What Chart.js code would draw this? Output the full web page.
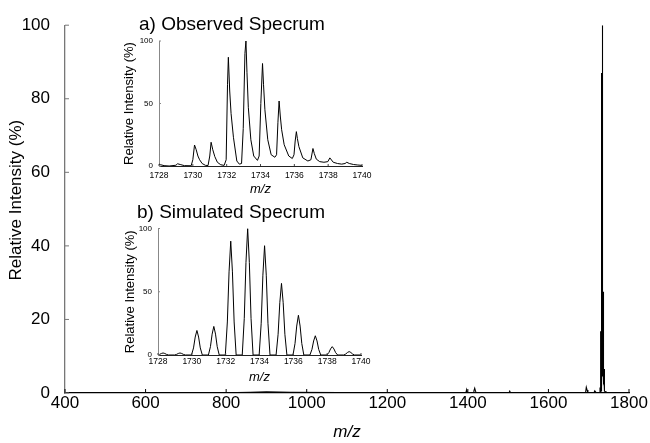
<!DOCTYPE html>
<html>
<head>
<meta charset="utf-8">
<script src="https://cdn.jsdelivr.net/npm/chart.js@4/dist/chart.umd.min.js"></script>
<style>
  html, body { margin: 0; padding: 0; background: #fff; }
  #wrap { position: relative; width: 650px; height: 443px; overflow: hidden; }
  canvas { position: absolute; left: 0; top: 0; }
  .ttl { position: absolute; font-family: 'Liberation Sans', Arial, Helvetica, sans-serif; font-size: 19px; line-height: 19px; color: #000; white-space: nowrap; }
</style>
</head>
<body>
<div id="wrap">
  <canvas id="main" width="650" height="443"></canvas>
  <canvas id="insetA" width="650" height="443"></canvas>
  <canvas id="insetB" width="650" height="443"></canvas>
  <div class="ttl" id="titleA" style="left:139px; top:14px;">a) Observed Specrum</div>
  <div class="ttl" id="titleB" style="left:137px; top:202px;">b) Simulated Specrum</div>
</div>
<script>
// ---------- DATA ----------
// Full spectrum, low-mass region (m/z, relative intensity %)
const lowMz  = [400, 520, 640, 760, 860, 900, 960, 1080, 1200, 1300, 1395, 1397, 1399, 1413, 1415, 1417, 1419, 1421, 1460, 1502, 1504, 1506, 1600, 1650, 1692, 1694, 1696, 1698, 1713, 1715, 1717, 1719, 1727];
const lowInt = [0,   0,   0.1, 0,   0.2, 0.3, 0.2, 0.1,  0,    0,    0,    0.9,  0,    0,    0.6,  1.3,  0.5,  0,    0.1,  0,    0.5,  0,    0,    0,    0,    1.6,  0.8,  0,    0,    0.6,  0.3,  0,    0];
// Above the isotope cluster
const highMz  = [1745, 1800];
const highInt = [0.2, 0];

// a) Observed isotope cluster
const obsMz = [
  1728.0, 1728.1, 1728.3, 1728.6, 1729.0, 1729.1, 1729.25, 1729.5, 1729.9,
  1730.0, 1730.1, 1730.2, 1730.3, 1730.4, 1730.55, 1730.75, 1730.9,
  1731.0, 1731.08, 1731.18, 1731.3, 1731.45, 1731.65, 1731.85,
  1731.97, 1732.05, 1732.1, 1732.18, 1732.26, 1732.4, 1732.6, 1732.75, 1732.88,
  1732.98, 1733.08, 1733.14, 1733.2, 1733.28, 1733.43, 1733.6, 1733.82, 1733.92,
  1734.02, 1734.12, 1734.18, 1734.26, 1734.43, 1734.63, 1734.85, 1734.95,
  1735.03, 1735.1, 1735.17, 1735.25, 1735.4, 1735.67, 1735.88, 1735.98,
  1736.05, 1736.12, 1736.18, 1736.27, 1736.5, 1736.8, 1736.98,
  1737.1, 1737.18, 1737.3, 1737.5, 1737.75, 1737.98,
  1738.1, 1738.3, 1738.55, 1738.8, 1739.0, 1739.1, 1739.25, 1739.5, 1739.75, 1740.0
];
const obsInt = [
  1.5, 1.0, 0.3, 0.0, 0.6, 1.8, 1.2, 0.3, 0.2,
  5, 16.8, 13, 8, 5, 2, 0.5, 0.4,
  8, 19, 13, 7.5, 3, 1, 0.5,
  5, 65, 87, 60, 42, 23, 4, 1.5, 2,
  30, 90, 100, 75, 47, 21, 8, 4.5, 8,
  50, 82, 65, 45, 21, 9, 7, 9,
  35, 52, 40, 29, 17, 8, 6, 9,
  20, 27.5, 22, 15.5, 6.5, 4, 5,
  14, 10, 5.5, 3.5, 3, 3.5,
  6.5, 3, 2, 1.5, 2, 3, 2, 1.2, 0.8, 0.5
];

// b) Simulated isotope cluster
const simMz = [
  1728.0,
  1728.0, 1728.1, 1728.2, 1728.3, 1728.4, 1728.5, 1728.62,
  1728.98, 1729.1, 1729.2, 1729.3, 1729.4, 1729.5, 1729.62,
  1729.98, 1730.1, 1730.2, 1730.3, 1730.4, 1730.5, 1730.62,
  1730.98, 1731.1, 1731.2, 1731.3, 1731.4, 1731.5, 1731.62,
  1731.98, 1732.1, 1732.2, 1732.3, 1732.4, 1732.5, 1732.62,
  1732.98, 1733.1, 1733.2, 1733.3, 1733.4, 1733.5, 1733.62,
  1733.98, 1734.1, 1734.2, 1734.3, 1734.4, 1734.5, 1734.62,
  1734.98, 1735.1, 1735.2, 1735.3, 1735.4, 1735.5, 1735.62,
  1735.98, 1736.1, 1736.2, 1736.3, 1736.4, 1736.5, 1736.62,
  1736.98, 1737.1, 1737.2, 1737.3, 1737.4, 1737.5, 1737.62,
  1737.98, 1738.1, 1738.2, 1738.3, 1738.4, 1738.5, 1738.62,
  1738.98, 1739.1, 1739.2, 1739.3, 1739.4, 1739.5, 1739.62,
  1740.0
];
const simInt = [
  0,
  0, 0.5, 1.2, 1.6, 1.2, 0.5, 0,
  0, 0.5, 1.2, 1.6, 1.2, 0.5, 0,
  0, 5.6, 14.2, 19.4, 14.2, 5.6, 0,
  0, 6.6, 16.5, 22.6, 16.5, 6.6, 0,
  0, 26.1, 65.7, 90, 65.7, 26.1, 0,
  0, 29, 73, 100, 73, 29, 0,
  0, 25.1, 63.1, 86.4, 63.1, 25.1, 0,
  0, 16.4, 41.3, 56.6, 41.3, 16.4, 0,
  0, 9.1, 22.9, 31.4, 22.9, 9.1, 0,
  0, 4.4, 11.1, 15.2, 11.1, 4.4, 0,
  0, 1.9, 4.8, 6.6, 4.8, 1.9, 0,
  0, 0.8, 2.0, 2.7, 2.0, 0.8, 0,
  0
];

// Tick values
const mainXTicks = [400, 600, 800, 1000, 1200, 1400, 1600, 1800];
const mainYTicks = [0, 20, 40, 60, 80, 100];
const insetXTicks = [1728, 1730, 1732, 1734, 1736, 1738, 1740];
const insetYTicks = [0, 50, 100];

// ---------- HELPERS ----------
const FONT = "'Liberation Sans', Arial, Helvetica, sans-serif";
Chart.defaults.font.family = FONT;
Chart.defaults.color = '#000';

function toPts(xs, ys) { return xs.map((x, i) => ({ x: x, y: ys[i] })); }

const inTicks = {
  id: 'inTicks',
  afterDraw(chart, args, opts) {
    const ctx = chart.ctx, a = chart.chartArea;
    const xs = chart.scales.x, ys = chart.scales.y;
    ctx.save();
    ctx.lineWidth = opts.width || 1;
    ctx.strokeStyle = opts.xColor || '#000';
    ctx.beginPath();
    xs.ticks.forEach((t, i) => {
      const p = xs.getPixelForTick(i);
      ctx.moveTo(p, a.bottom); ctx.lineTo(p, a.bottom - opts.len);
    });
    ctx.stroke();
    ctx.strokeStyle = opts.yColor || '#000';
    ctx.beginPath();
    ys.ticks.forEach((t, i) => {
      const p = ys.getPixelForTick(i);
      ctx.moveTo(a.left, p); ctx.lineTo(a.left + opts.len, p);
    });
    ctx.stroke();
    // optional y-axis title drawn with an offset from the axis centre
    if (opts.yTitle) {
      const t = opts.yTitle;
      ctx.fillStyle = '#000';
      ctx.font = t.size + 'px ' + FONT;
      ctx.textAlign = 'center';
      ctx.textBaseline = 'middle';
      ctx.translate(t.x, (a.top + a.bottom) / 2 + t.dy);
      ctx.rotate(-Math.PI / 2);
      ctx.fillText(t.text, 0, 0);
    }
    ctx.restore();
  }
};

function fixedTicks(values) {
  return function (scale) {
    scale.ticks = values.map(v => ({ value: v }));
  };
}

function makeChart(id, cfg) {
  return new Chart(document.getElementById(id), {
    type: 'line',
    data: { datasets: [{ data: cfg.data, borderColor: '#000', borderWidth: cfg.lw, pointRadius: 0, tension: 0, fill: false }] },
    plugins: [inTicks],
    options: {
      responsive: false, animation: false, events: [],
      layout: { padding: cfg.pad },
      plugins: { legend: { display: false }, tooltip: { enabled: false }, inTicks: cfg.ticksOpt },
      scales: {
        x: {
          type: 'linear', min: cfg.xmin, max: cfg.xmax,
          afterBuildTicks: fixedTicks(cfg.xTicks),
          ticks: { font: { size: cfg.xFont }, padding: cfg.xPad, maxRotation: 0, autoSkip: false, callback: v => String(v) },
          grid: { drawOnChartArea: false, drawTicks: false },
          border: { color: cfg.xAxisColor, width: cfg.axisW },
          title: { display: true, text: 'm/z', font: { size: cfg.xtFont, style: 'italic' }, padding: { top: 0, bottom: cfg.xtPad } },
          afterFit: s => { s.height = cfg.xH; }
        },
        y: {
          min: 0, max: 100,
          afterBuildTicks: fixedTicks(cfg.yTicks),
          ticks: { font: { size: cfg.yFont }, padding: cfg.yPad, callback: v => String(v) },
          grid: { drawOnChartArea: false, drawTicks: false },
          border: { color: cfg.yAxisColor, width: cfg.axisW },
          title: { display: cfg.ytShow, text: 'Relative Intensity (%)', font: { size: cfg.ytFont }, padding: { top: cfg.ytPad, bottom: 0 } },
          afterFit: s => { s.width = cfg.yW; }
        }
      }
    }
  });
}

// ---------- MAIN ----------
const mainData = toPts(lowMz, lowInt).concat(toPts(obsMz, obsInt), toPts(highMz, highInt));
makeChart('main', {
  data: mainData, lw: 1.1,
  pad: { left: 0, top: 22, right: 21, bottom: 0 },
  xmin: 400, xmax: 1800, xTicks: mainXTicks, yTicks: mainYTicks,
  xFont: 17, xPad: 0.5, xtFont: 17, xtPad: 0.5, xH: 50, xAxisColor: '#000',
  yFont: 17, yPad: 15, ytShow: false, ytFont: 17, ytPad: 6, yW: 65, yAxisColor: '#777',
  axisW: 1.3,
  ticksOpt: { len: 4, width: 1, xColor: '#000', yColor: '#777',
              yTitle: { text: 'Relative Intensity (%)', size: 17, x: 16, dy: -9 } }
});

// ---------- INSET A ----------
makeChart('insetA', {
  data: toPts(obsMz, obsInt), lw: 1,
  pad: { left: 110, top: 41, right: 288, bottom: 243 },
  xmin: 1728, xmax: 1740, xTicks: insetXTicks, yTicks: insetYTicks,
  xFont: 8.5, xPad: 4.6, xtFont: 13, xtPad: 3, xH: 34, xAxisColor: '#222',
  yFont: 8, yPad: 6, ytShow: true, ytFont: 13, ytPad: 12, yW: 49, yAxisColor: '#888',
  axisW: 1,
  ticksOpt: { len: 2, width: 1, xColor: '#444', yColor: '#888' }
});

// ---------- INSET B ----------
makeChart('insetB', {
  data: toPts(simMz, simInt), lw: 1,
  pad: { left: 109, top: 228.5, right: 289, bottom: 54 },
  xmin: 1728, xmax: 1740, xTicks: insetXTicks, yTicks: insetYTicks,
  xFont: 8.5, xPad: 1.8, xtFont: 13, xtPad: 4.2, xH: 34, xAxisColor: '#222',
  yFont: 8, yPad: 6, ytShow: true, ytFont: 13, ytPad: 13.5, yW: 49, yAxisColor: '#888',
  axisW: 1,
  ticksOpt: { len: 2, width: 1, xColor: '#444', yColor: '#888' }
});
</script>
</body>
</html>
